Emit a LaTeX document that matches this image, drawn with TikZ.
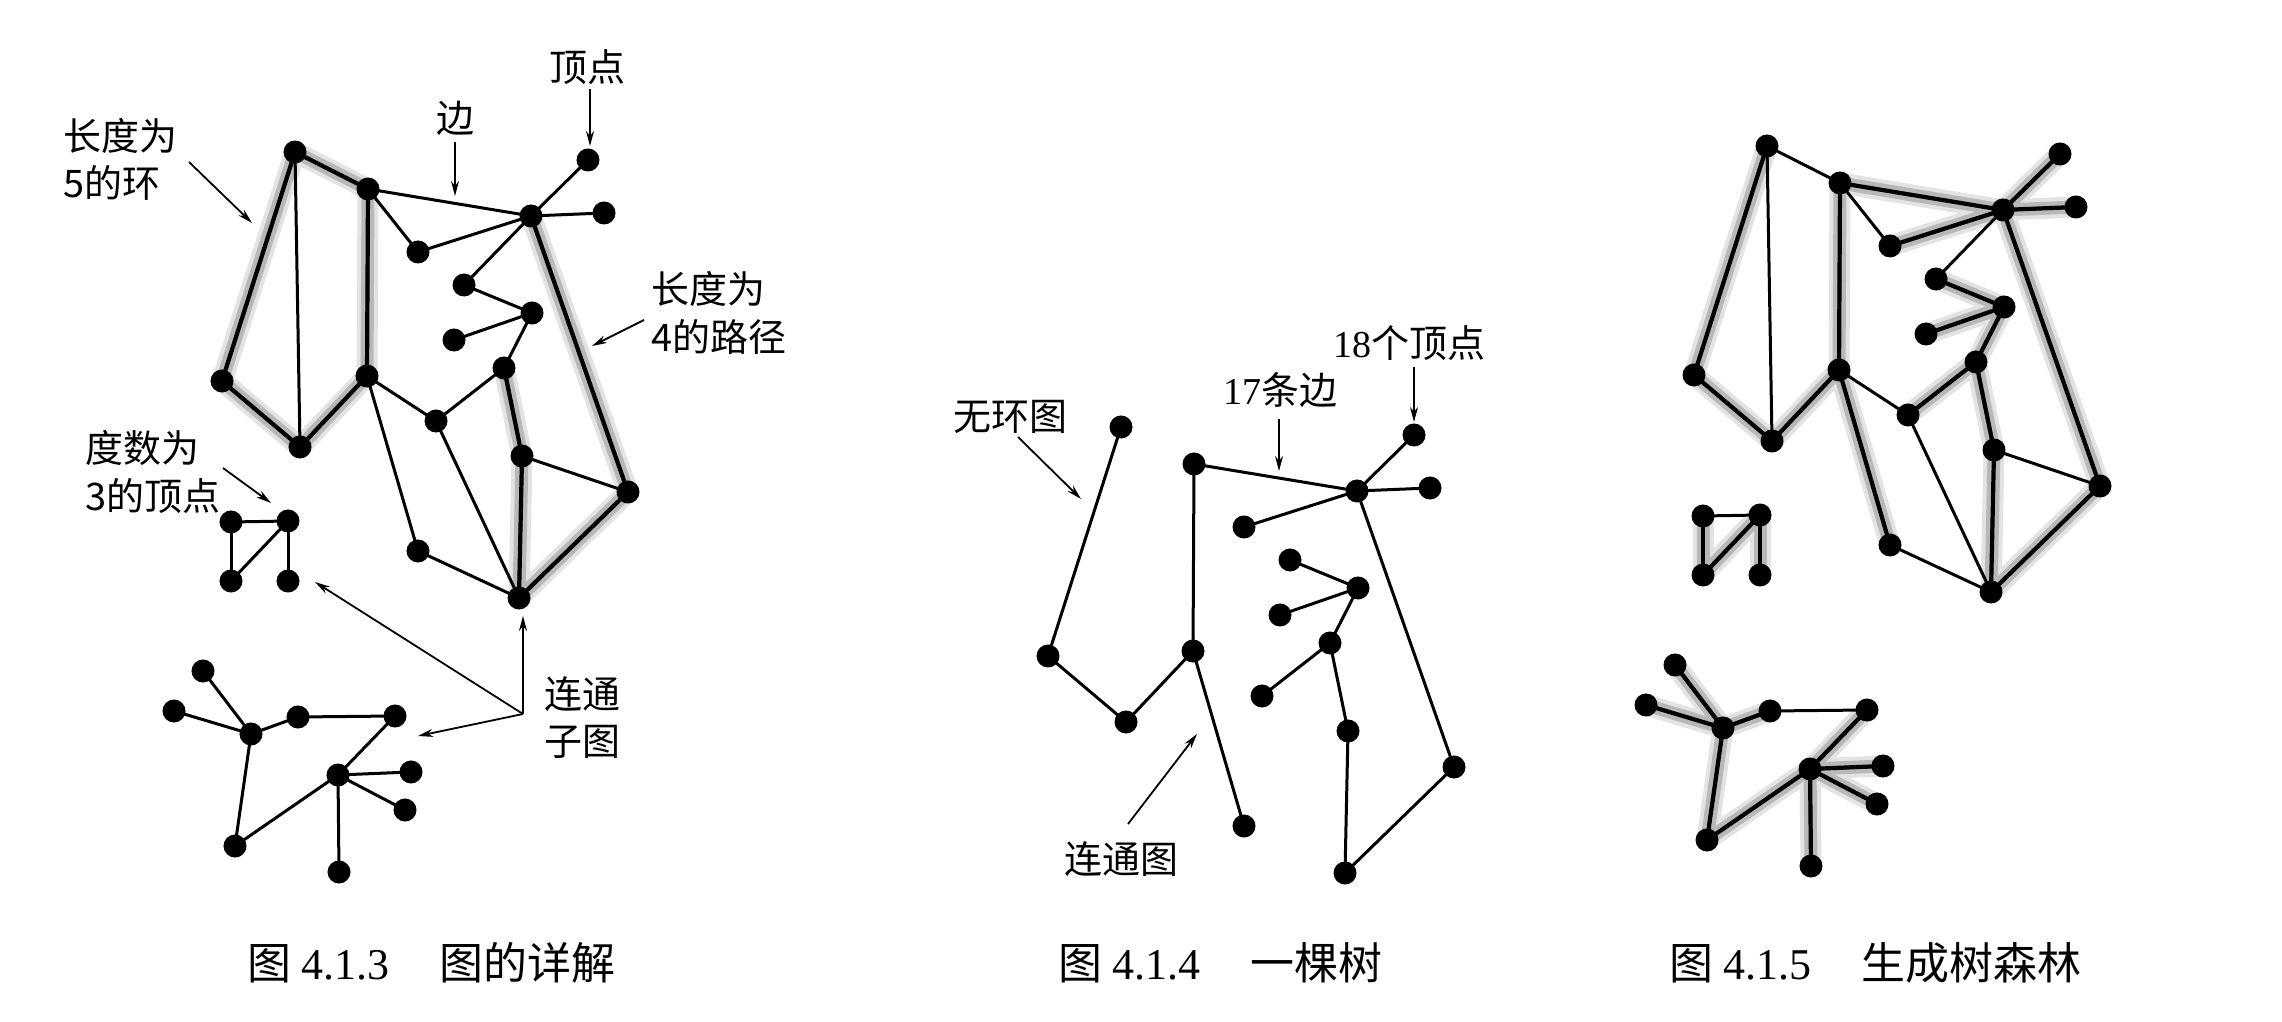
\documentclass[tikz,border=0pt]{standalone}
\usepackage{fontspec}
\setmainfont{Liberation Serif}
\newfontfamily\cjk{Noto Sans CJK SC}
\usetikzlibrary{arrows.meta}
\pgfdeclarelayer{bg}
\pgfsetlayers{bg,main}
\tikzset{
  vtx/.style={circle,fill=black,draw=none,inner sep=0pt,minimum size=0.23cm},
  edg/.style={line width=0.03cm,line cap=round},
  thk/.style={line width=0.042cm,line cap=round},
  haloA/.style={line width=0.21cm,draw=black!11,line cap=round},
  haloB/.style={line width=0.13cm,draw=black!28,line cap=round},
  lbl/.style={font=\cjk\fontsize{10.8}{13.4}\selectfont,align=left,inner sep=0pt},
  capt/.style={font=\fontsize{12.5}{14}\selectfont,inner sep=0pt,anchor=west},
  ptr/.style={line width=0.018cm,-{Stealth[length=0.15cm,width=0.08cm]}},
}
\newcommand\placebig{%
  \foreach \n/\x/\y in {A/295/152,B/368/189,C/531/216,D/588/160,E/604/213,F/418/252,
      G/464/285,H/532/313,I/454/340,J/504/368,K/222/381,L/367/376,M/300/447,
      N/436/421,O/522/456,P/628/492,Q/519/598,R/418/551}
    {\node[vtx] (\n) at (\x,\y) {};}}
\newcommand\placesmall{%
  \foreach \n/\x/\y in {S1/231/522,S2/288/521,S3/231/581,S4/288/581,
      T1/203/671,T2/174/711,T3/251/734,T4/298/717,T5/395/716,T6/338/775,
      T7/411/772,T8/405/810,T9/235/846,T10/339/872}
    {\node[vtx] (\n) at (\x,\y) {};}}
\def\alledges{A/B,A/K,A/M,K/M,M/L,L/B,B/C,B/F,F/C,C/D,C/E,C/G,G/H,H/I,H/J,J/N,N/L,L/R,N/Q,J/O,O/Q,O/P,C/P,P/Q,R/Q,S1/S2,S1/S3,S2/S3,S2/S4,T1/T3,T2/T3,T3/T4,T4/T5,T5/T6,T3/T9,T9/T6,T6/T7,T6/T8,T6/T10}
\def\lefthl{A/B,B/L,L/M,M/K,K/A,C/P,P/Q,Q/O,O/J}
\def\righthl{A/K,K/M,M/L,L/B,L/R,B/C,C/D,C/E,C/F,C/P,P/Q,Q/O,O/J,J/H,J/N,H/G,H/I,S1/S3,S3/S2,S2/S4,T1/T3,T2/T3,T3/T4,T5/T6,T3/T9,T9/T6,T6/T7,T6/T8,T6/T10}
\def\treeedges{A/K,K/M,M/L,L/B,L/R,B/C,C/D,C/E,C/F,C/P,P/Q,Q/O,O/J,J/H,J/N,H/G,H/I}
\newcommand\capline[2]{{\cjk 图}\hspace{0.1cm}#1\hspace{0.5cm}{\cjk #2}}
\begin{document}
\begin{tikzpicture}[x=0.01cm,y=-0.01cm]
\useasboundingbox (0,0) rectangle (2282,1022);

% ---------- Figure 4.1.3 ----------
\begin{scope}[name prefix=l-]
  \placebig
  \placesmall
  \begin{pgfonlayer}{bg}
    \foreach \a/\b in \lefthl {\draw[haloA] (\a.center) -- (\b.center);}
    \foreach \a/\b in \lefthl {\draw[haloB] (\a.center) -- (\b.center);}
    \foreach \a/\b in \alledges {\draw[edg] (\a.center) -- (\b.center);}
    \foreach \a/\b in \lefthl {\draw[thk] (\a.center) -- (\b.center);}
  \end{pgfonlayer}
\end{scope}

% ---------- Figure 4.1.4 ----------
\begin{scope}[shift={(826,275)},name prefix=m-]
  \placebig
  \begin{pgfonlayer}{bg}
    \foreach \a/\b in \treeedges {\draw[edg] (\a.center) -- (\b.center);}
  \end{pgfonlayer}
\end{scope}

% ---------- Figure 4.1.5 ----------
\begin{scope}[shift={(1472,-6)},name prefix=r-]
  \placebig
  \placesmall
  \begin{pgfonlayer}{bg}
    \foreach \a/\b in \righthl {\draw[haloA] (\a.center) -- (\b.center);}
    \foreach \a/\b in \righthl {\draw[haloB] (\a.center) -- (\b.center);}
    \foreach \a/\b in \alledges {\draw[edg] (\a.center) -- (\b.center);}
    \foreach \a/\b in \righthl {\draw[thk] (\a.center) -- (\b.center);}
  \end{pgfonlayer}
\end{scope}

% ---------- labels, figure 4.1.3 ----------
\node[lbl] (dingdian) at (587,67) {顶点};
\coordinate (dd1) at (590,89);  \coordinate (dd2) at (590,146);
\draw[ptr] (dd1) -- (dd2);

\node[lbl] (bian) at (455,118) {边};
\coordinate (bn1) at (455,142); \coordinate (bn2) at (455,196);
\draw[ptr] (bn1) -- (bn2);

\node[lbl,anchor=west] (huan) at (63,159) {长度为\\5的环};
\coordinate (hu1) at (189,162); \coordinate (hu2) at (252,223);
\draw[ptr] (hu1) -- (hu2);

\node[lbl,anchor=west] (lujing) at (651,313) {长度为\\4的路径};
\coordinate (lj1) at (644,320); \coordinate (lj2) at (592,346);
\draw[ptr] (lj1) -- (lj2);

\node[lbl,anchor=west] (dushu) at (85,472) {度数为\\3的顶点};
\coordinate (ds1) at (223,468); \coordinate (ds2) at (271,503);
\draw[ptr] (ds1) -- (ds2);

\node[lbl,anchor=west] (zitu) at (544,718) {连通\\子图};
\coordinate (zt0) at (523,714);
\coordinate (zt1) at (523,616);
\coordinate (zt2) at (315,582);
\coordinate (zt3) at (418,736);
\draw[ptr] (zt0) -- (zt1);
\draw[ptr] (zt0) -- (zt2);
\draw[ptr] (zt0) -- (zt3);

% ---------- labels, figure 4.1.4 ----------
\node[lbl] (shiba) at (1409,343) {{\rmfamily 18}个顶点};
\coordinate (sb1) at (1414,367); \coordinate (sb2) at (1414,422);
\draw[ptr] (sb1) -- (sb2);

\node[lbl] (shiqi) at (1280,390) {{\rmfamily 17}条边};
\coordinate (sq1) at (1279,419); \coordinate (sq2) at (1279,471);
\draw[ptr] (sq1) -- (sq2);

\node[lbl] (wuhuan) at (1010,417) {无环图};
\coordinate (wh1) at (1018,437); \coordinate (wh2) at (1081,499);
\draw[ptr] (wh1) -- (wh2);

\node[lbl] (liantong) at (1121,859) {连通图};
\coordinate (lt1) at (1128,824); \coordinate (lt2) at (1197,734);
\draw[ptr] (lt1) -- (lt2);

% ---------- captions ----------
\node[capt] (cap3) at (247,963) {\capline{4.1.3}{图的详解}};
\node[capt] (cap4) at (1058,963) {\capline{4.1.4}{一棵树}};
\node[capt] (cap5) at (1669,963) {\capline{4.1.5}{生成树森林}};
\end{tikzpicture}
\end{document}
